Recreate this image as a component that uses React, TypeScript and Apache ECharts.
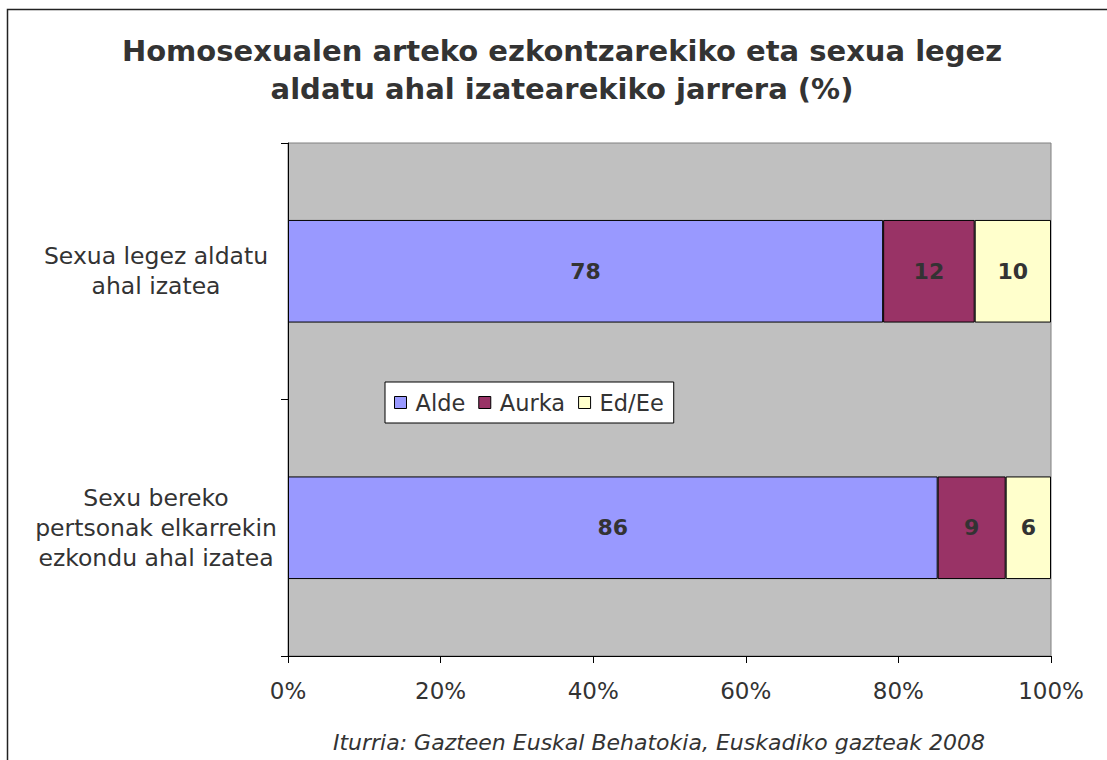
import React, { useEffect, useRef } from "react";
import * as echarts from "echarts";

const categories = [
  "Sexua legez aldatu\nahal izatea",
  "Sexu bereko\npertsonak elkarrekin\nezkondu ahal izatea",
];
const seriesNames = ["Alde", "Aurka", "Ed/Ee"];
const alde = [78, 86];
const aurka = [12, 9];
const edee = [10, 6];
const xTicks = [0, 20, 40, 60, 80, 100];
const titleLines = [
  "Homosexualen arteko ezkontzarekiko eta sexua legez",
  "aldatu ahal izatearekiko jarrera (%)",
];
const caption = "Iturria: Gazteen Euskal Behatokia, Euskadiko gazteak 2008";

const colors = ["#9999FF", "#993366", "#FFFFCC"];
const FONT = "DejaVu Sans";

export default function App() {
  const ref = useRef<HTMLDivElement>(null);
  useEffect(() => {
    if (!ref.current) return;
    const chart = echarts.init(ref.current, null, { renderer: "svg" });
    const raw = [alde, aurka, edee];
    const totals = categories.map((_, i) => raw.reduce((s, arr) => s + arr[i], 0));
    const series = seriesNames.map((name, si) => ({
      name,
      type: "bar",
      stack: "total",
      barWidth: "40%",
      itemStyle: { color: colors[si], borderColor: "#000", borderWidth: 1 },
      label: {
        show: true,
        position: "inside",
        fontFamily: FONT,
        fontWeight: "bold",
        fontSize: 22,
        color: "#333",
        formatter: (p: any) => String(p.data.raw),
      },
      data: raw[si].map((v, i) => ({ value: (v / totals[i]) * 100, raw: v })),
    }));

    chart.setOption({
      animation: false,
      backgroundColor: "#fff",
      textStyle: { fontFamily: FONT },
      grid: {
        left: 288,
        top: 143,
        width: 763,
        height: 513,
        show: true,
        backgroundColor: "#C0C0C0",
        borderColor: "#808080",
        borderWidth: 1,
      },
      legend: {
        data: seriesNames,
        left: 385,
        top: 382,
        orient: "horizontal",
        backgroundColor: "#fff",
        borderColor: "#000",
        borderWidth: 1,
        padding: [9, 10, 9, 9],
        itemWidth: 12,
        itemHeight: 12,
        itemGap: 13,
        icon: "rect",
        itemStyle: { borderColor: "#000", borderWidth: 1 },
        textStyle: { fontFamily: FONT, fontSize: 22.5, color: "#333", padding: [0, 0, 0, 4] },
      },
      xAxis: {
        type: "value",
        min: 0,
        max: 100,
        interval: 20,
        axisLine: { show: true, lineStyle: { color: "#000", width: 1 } },
        axisTick: { show: true, length: 7, lineStyle: { color: "#000" } },
        splitLine: { show: false },
        axisLabel: {
          margin: 23,
          fontFamily: FONT,
          fontSize: 23,
          color: "#333",
          formatter: (v: number) => (xTicks.includes(v) ? v + "%" : ""),
        },
      },
      yAxis: {
        type: "category",
        inverse: true,
        data: categories,
        axisLine: { show: true, lineStyle: { color: "#000", width: 1 } },
        axisTick: { show: true, length: 7, lineStyle: { color: "#000" } },
        axisLabel: {
          margin: 132,
          align: "center",
          fontFamily: FONT,
          fontSize: 23.5,
          lineHeight: 30,
          color: "#333",
        },
      },
      series,
      graphic: [
        {
          type: "rect",
          shape: { x: 7.5, y: 9.5, width: 1300, height: 900 },
          style: { fill: "none", stroke: "#222", lineWidth: 1.5 },
          silent: true,
        },
        {
          type: "text",
          x: 562,
          y: 51,
          style: {
            text: titleLines[0],
            align: "center",
            verticalAlign: "middle",
            fontFamily: FONT,
            fontWeight: "bold",
            fontSize: 29,
            fill: "#333",
          },
        },
        {
          type: "text",
          x: 562,
          y: 89,
          style: {
            text: titleLines[1],
            align: "center",
            verticalAlign: "middle",
            fontFamily: FONT,
            fontWeight: "bold",
            fontSize: 29,
            fill: "#333",
          },
        },
        {
          type: "text",
          x: 659,
          y: 742,
          style: {
            text: caption,
            align: "center",
            verticalAlign: "middle",
            fontFamily: FONT,
            fontStyle: "italic",
            fontSize: 22,
            fill: "#333",
          },
        },
      ],
    });
    return () => chart.dispose();
  }, []);
  return (
    <div
      ref={ref}
      style={{ position: "absolute", left: 0, top: 0, width: 1107, height: 760 }}
    />
  );
}
